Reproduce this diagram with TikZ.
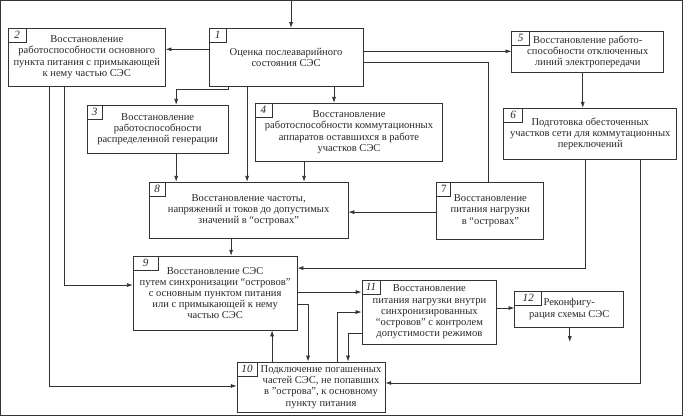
\documentclass[tikz,border=0pt]{standalone}
\usepackage{fontspec}
\setmainfont{Liberation Serif}
\usetikzlibrary{arrows.meta}

\begin{document}
\begin{tikzpicture}[
      x=0.03cm, y=-0.03cm,
      >={Latex[length=5pt,width=3.4pt]},
      every node/.style={font=\fontsize{9}{9.6}\selectfont, text=black!85},
      box/.style 2 args={draw=black!80, line width=0.7pt, align=center, inner sep=1pt,
        minimum width=#1*0.03cm, minimum height=#2*0.03cm},
      tag/.style={draw=black!80, line width=0.6pt, anchor=north west, inner sep=0pt,
        minimum width=#1*0.03cm, minimum height=0.42cm, font=\fontsize{9.5}{10}\selectfont\itshape},
      tag/.default=17,
      every path/.style={draw=black!80, line width=0.6pt}
    ]
    \useasboundingbox (0,0) rectangle (683,415);

    % blocks
    \node[box={154}{58}] (n1) at (286,57) {Оценка послеаварийного\\состояния СЭС};
    \node[box={157}{58}] (n2) at (86.5,57) {Восстановление\\работоспособности основного\\пункта питания с примыкающей\\к нему частью СЭС};
    \node[box={141}{48}] (n3) at (157.5,129) {Восстановление\\работоспособности\\распределенной генерации};
    \node[box={188}{58}] (n4) at (349,132) {Восстановление\\работоспособности коммутационных\\аппаратов оставшихся в работе\\участков СЭС};
    \node[box={152}{41}] (n5) at (588,51.5) {Восстановление работо-\\способности отключенных\\линий электропередачи};
    \node[box={173}{51}] (n6) at (590.5,133.5) {Подготовка обесточенных\\участков сети для коммутационных\\переключений};
    \node[box={107}{57}] (n7) at (490.5,210.5) {Восстановление\\питания нагрузки\\в “островах”};
    \node[box={199}{56}] (n8) at (248.5,210) {Восстановление частоты,\\напряжений и токов до допустимых\\значений в “островах”};
    \node[box={164}{74}] (n9) at (215,293) {Восстановление СЭС\\путем синхронизации “островов”\\с основным пунктом питания\\или с примыкающей к нему\\частью СЭС};
    \node[box={148}{50}] (n10) at (311,387) {};
    \node[align=center] (n10txt) at (321,387) {Подключение погашенных\\частей СЭС, не попавших\\в "острова", к основному\\пункту питания};
    \node[box={135}{64}] (n11) at (429.5,312) {Восстановление\\питания нагрузки внутри\\синхронизированных\\“островов” с контролем\\допустимости режимов};
    \node[box={109}{36}] (n12) at (569.5,309) {Реконфигу-\\рация схемы СЭС};

    % numbers
    \node[tag] (t1) at (n1.north west) {1};
    \node[tag=18] (t2) at (n2.north west) {2};
    \node[tag=15] (t3) at (n3.north west) {3};
    \node[tag] (t4) at (n4.north west) {4};
    \node[tag=18] (t5) at (n5.north west) {5};
    \node[tag=19] (t6) at (n6.north west) {6};
    \node[tag=14] (t7) at (n7.north west) {\upshape 7};
    \node[tag=16] (t8) at (n8.north west) {8};
    \node[tag=25] (t9) at (n9.north west) {9};
    \node[tag=20] (t10) at (n10.north west) {10};
    \node[tag=18] (t11) at (n11.north west) {11};
    \node[tag=27] (t12) at (n12.north west) {12};

    % connectors
    \coordinate (in) at (291,0);
    \coordinate (out) at (570,342);
    \draw[->] (in) -- (in |- n1.north);
    \draw[->] (n1.west |- 0,49) -- (n2.east |- 0,49);
    \draw[->] (n1.east |- 0,51) -- (n5.west |- 0,51);
    \draw (n1.east |- 0,62) -| (n7.north -| 488,0);
    \draw[->] (n1.south -| 228,0) -- (228,89) -| (n3.north -| 176,0);
    \draw[->] (n1.south -| 247,0) -- (n8.north -| 247,0);
    \draw[->] (n1.south -| 334,0) -- (n4.north -| 334,0);
    \draw[->] (n5.south -| 583,0) -- (n6.north -| 583,0);
    \draw[->] (n6.south -| 586,0) |- (n9.east |- 0,268);
    \draw[->] (n6.south -| 641,0) |- (n10.east |- 0,383);
    \draw[->] (n3.south -| 176,0) -- (n8.north -| 176,0);
    \draw[->] (n4.south -| 304,0) -- (n8.north -| 304,0);
    \draw[->] (n7.west |- 0,212) -- (n8.east |- 0,212);
    \draw[->] (n8.south -| 231,0) -- (n9.north -| 231,0);
    \draw[->] (n2.south -| 64,0) |- (n9.west |- 0,285);
    \draw[->] (n2.south -| 49,0) |- (n10.west |- 0,386);
    \draw[->] (n9.east |- 0,292) -- (n11.west |- 0,292);
    \draw[->] (n9.east |- 0,304) -| (n10.north -| 308,0);
    \draw[->] (n10.north -| 272,0) -- (n9.south -| 272,0);
    \draw[->] (n10.north -| 337,0) |- (n11.west |- 0,312);
    \draw[->] (n11.west |- 0,333) -| (n10.north -| 348,0);
    \draw[->] (n11.east |- 0,308) -- (n12.west |- 0,308);
    \draw[->] (n12.south -| out) -- (out);

  \end{tikzpicture}
\end{document}
